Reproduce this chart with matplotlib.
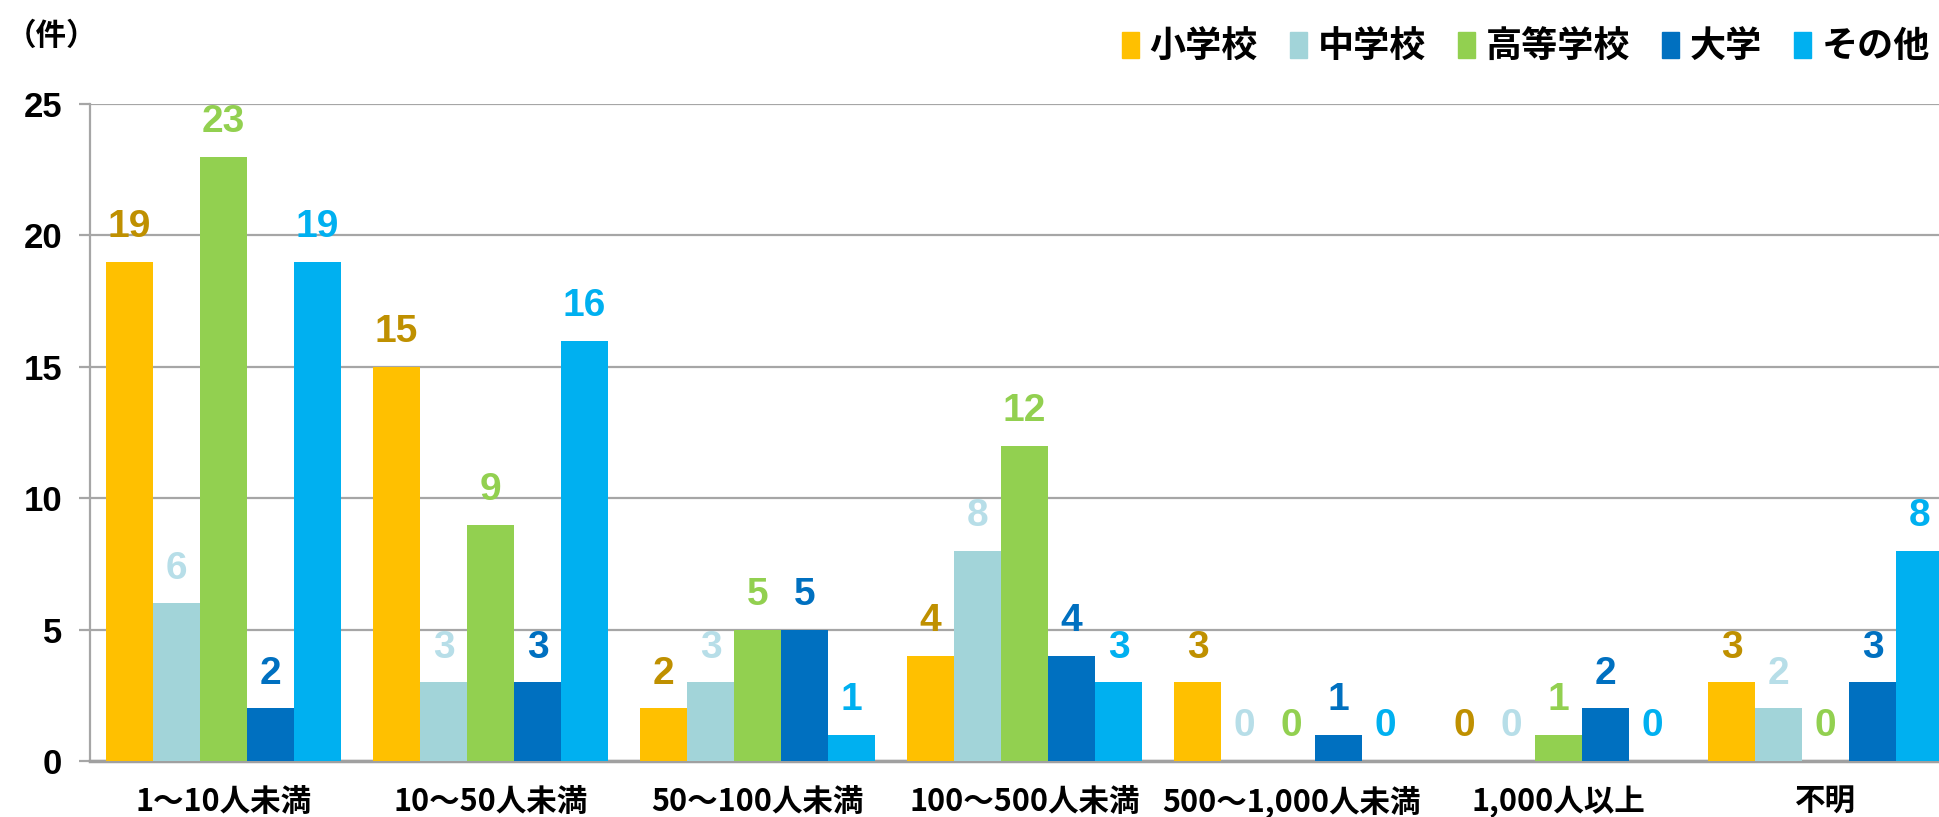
import matplotlib
matplotlib.use("Agg")
import numpy as np
import matplotlib.pyplot as plt
from matplotlib.patches import Patch

plt.rcParams['font.family'] = ['Noto Sans CJK JP', 'DejaVu Sans']

# data
categories = ["1～10人未満", "10～50人未満", "50～100人未満", "100～500人未満",
              "500～1,000人未満", "1,000人以上", "不明"]
series_names = ["小学校", "中学校", "高等学校", "大学", "その他"]
shogakko = [19, 15, 2, 4, 3, 0, 3]
chugakko = [6, 3, 3, 8, 0, 0, 2]
koto = [23, 9, 5, 12, 0, 1, 0]
daigaku = [2, 3, 5, 4, 1, 2, 3]
sonota = [19, 16, 1, 3, 0, 0, 8]
values = [shogakko, chugakko, koto, daigaku, sonota]

bar_colors = ["#FFC000", "#A2D4D9", "#92D050", "#0070C0", "#00B0F0"]
label_colors = ["#BF9000", "#B7DEE8", "#92D050", "#0070C0", "#00B0F0"]

fig = plt.figure(figsize=(19.39, 8.17), dpi=100)
ax = fig.add_axes([0.0464, 0.0685, 0.964, 0.8042])

x = np.arange(len(categories))
w = 0.176
for i, (vals, c, lc) in enumerate(zip(values, bar_colors, label_colors)):
    pos = x + (i - 2) * w
    ax.bar(pos, vals, width=w, color=c, zorder=3)
    for px, v in zip(pos, vals):
        ax.annotate(str(v), (px, v), xytext=(0, 12), textcoords="offset points",
                    ha="center", va="bottom", color=lc, fontsize=28,
                    fontweight="bold", family="Liberation Sans")

ax.set_xlim(-0.5, len(categories) - 0.5)
ax.set_ylim(0, 25)
ax.set_yticks([0, 5, 10, 15, 20, 25])
ax.yaxis.grid(True, color="#A6A6A6", linewidth=1.6, zorder=0)
ax.set_axisbelow(True)
for s in ["top", "right"]:
    ax.spines[s].set_visible(False)
ax.spines["left"].set_color("#A6A6A6")
ax.spines["left"].set_linewidth(1.6)
ax.spines["bottom"].set_color("#A0A0A0")
ax.spines["bottom"].set_linewidth(2.5)
ax.tick_params(axis="y", direction="out", length=8, width=1.6, color="#A6A6A6",
               pad=12)
ax.tick_params(axis="x", length=0, pad=18)
for t in ax.get_yticklabels():
    t.set_fontsize(25)
    t.set_fontweight("bold")
    t.set_family("Liberation Sans")
ax.set_xticks(x)
ax.set_xticklabels(categories, fontsize=22, fontweight="bold")

fig.text(0.003, 0.975, "（件）", fontsize=22, fontweight="bold", va="top")

handles = [Patch(color=c) for c in bar_colors]
fig.legend(handles, series_names, loc="upper right", bbox_to_anchor=(1.012, 1.005),
           ncol=5, frameon=False, handlelength=0.45, handleheight=0.75,
           handletextpad=0.3, columnspacing=0.9,
           prop={"size": 26, "weight": "bold"})

fig.savefig("out.png", dpi=100)
